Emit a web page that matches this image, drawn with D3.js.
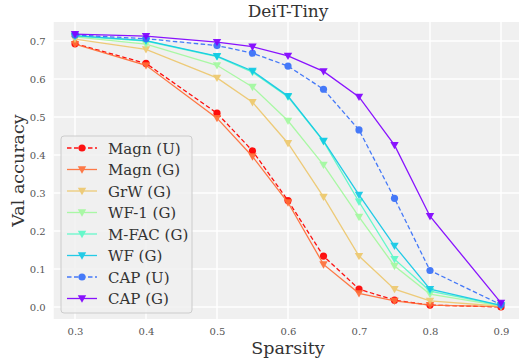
<!DOCTYPE html>
<html><head><meta charset="utf-8">
<script src="https://cdn.jsdelivr.net/npm/d3@7"></script>
<style>body{margin:0;background:#fff}svg{display:block}</style>
</head><body><div id="chart"></div>
<script>
const sparsity = [0.3, 0.4, 0.5, 0.55, 0.6, 0.65, 0.7, 0.75, 0.8, 0.9];
const seriesNames = ["Magn (U)", "Magn (G)", "GrW (G)", "WF-1 (G)", "M-FAC (G)", "WF (G)", "CAP (U)", "CAP (G)"];
const magnU = [0.693, 0.641, 0.510, 0.411, 0.280, 0.134, 0.047, 0.018, 0.005, 0.000];
const magnG = [0.692, 0.636, 0.497, 0.396, 0.275, 0.112, 0.036, 0.016, 0.005, 0.001];
const grwG  = [0.705, 0.678, 0.603, 0.539, 0.431, 0.290, 0.134, 0.047, 0.016, 0.002];
const wf1G  = [0.711, 0.692, 0.636, 0.579, 0.490, 0.374, 0.237, 0.108, 0.034, 0.003];
const mfacG = [0.713, 0.700, 0.659, 0.618, 0.553, 0.436, 0.277, 0.126, 0.042, 0.004];
const wfG   = [0.714, 0.701, 0.660, 0.621, 0.555, 0.437, 0.295, 0.161, 0.047, 0.004];
const capU  = [0.716, 0.706, 0.688, 0.668, 0.634, 0.573, 0.466, 0.286, 0.096, 0.006];
const capG  = [0.718, 0.713, 0.697, 0.685, 0.661, 0.620, 0.553, 0.426, 0.239, 0.011];
const xTicks = [0.3, 0.4, 0.5, 0.6, 0.7, 0.8, 0.9];
const yTicks = [0.0, 0.1, 0.2, 0.3, 0.4, 0.5, 0.6, 0.7];
const titleText = "DeiT-Tiny", xLabel = "Sparsity", yLabel = "Val accuracy";

const allValues = [magnU, magnG, grwG, wf1G, mfacG, wfG, capU, capG];
const colors = ["#ff0000", "#ff6f39", "#edc86f", "#a4f99f", "#5bf9c7", "#12c8e6", "#376ff9", "#8000ff"];
const dashed = [true, false, false, false, false, false, true, false];
const markers = ["circle", "tri", "tri", "tri", "tri", "tri", "circle", "tri"];

const W = 519, H = 360;
const svg = d3.select("#chart").append("svg").attr("width", W).attr("height", H);
const font = "'DejaVu Serif', serif";

const x = d3.scaleLinear().domain([0.3, 0.9]).range([75, 501]);
const y = d3.scaleLinear().domain([0, 0.7]).range([307, 41]);
const x0 = x(0.27), x1 = x(0.93), yTop = y(0.75), yBot = y(-0.0316);

svg.append("rect").attr("x", x0).attr("y", yTop).attr("width", x1 - x0).attr("height", yBot - yTop).attr("fill", "#f0f0f0");

const grid = svg.append("g");
xTicks.forEach(t => grid.append("line").attr("x1", x(t)).attr("x2", x(t)).attr("y1", yTop).attr("y2", yBot).attr("stroke", "#fff").attr("stroke-width", 1.4));
yTicks.forEach(t => grid.append("line").attr("x1", x0).attr("x2", x1).attr("y1", y(t)).attr("y2", y(t)).attr("stroke", "#fff").attr("stroke-width", 1.4));

const xAxis = svg.append("g").attr("transform", `translate(0,${yBot})`)
  .call(d3.axisBottom(x).tickValues(xTicks).tickFormat(d3.format(".1f")).tickSize(0).tickPadding(9));
const yAxis = svg.append("g").attr("transform", `translate(${x0},0)`)
  .call(d3.axisLeft(y).tickValues(yTicks).tickFormat(d3.format(".1f")).tickSize(0).tickPadding(8));
[xAxis, yAxis].forEach(a => {
  a.select(".domain").remove();
  a.selectAll("text").attr("font-family", font).attr("font-size", 10).attr("fill", "#555");
});

svg.append("clipPath").attr("id", "pc").append("rect").attr("x", x0).attr("y", yTop).attr("width", x1 - x0).attr("height", yBot - yTop);
const plot = svg.append("g").attr("clip-path", "url(#pc)");

function drawMarker(g, type, cx, cy, color) {
  if (type === "circle") {
    g.append("circle").attr("cx", cx).attr("cy", cy).attr("r", 3.6).attr("fill", color);
  } else {
    const s = 4.2;
    g.append("path").attr("d", `M${cx - s},${cy - s * 0.75}L${cx + s},${cy - s * 0.75}L${cx},${cy + s}Z`).attr("fill", color);
  }
}

const line = d3.line().x((d, i) => x(sparsity[i])).y(d => y(d));
allValues.forEach((vals, k) => {
  const g = plot.append("g").attr("opacity", 0.92);
  g.append("path").attr("d", line(vals)).attr("fill", "none").attr("stroke", colors[k]).attr("stroke-width", 1.3)
    .attr("stroke-dasharray", dashed[k] ? "4.5,2.5" : null);
  vals.forEach((v, i) => drawMarker(g, markers[k], x(sparsity[i]), y(v), colors[k]));
});

// Legend
const lg = svg.append("g");
lg.append("rect").attr("x", 61).attr("y", 136).attr("width", 131).attr("height", 177).attr("rx", 3)
  .attr("fill", "#f0f0f0").attr("fill-opacity", 0.85).attr("stroke", "#cccccc").attr("stroke-width", 1);
seriesNames.forEach((name, k) => {
  const ly = 148 + k * 21.5;
  const g = lg.append("g").attr("opacity", 0.92);
  g.append("line").attr("x1", 67).attr("x2", 97).attr("y1", ly).attr("y2", ly).attr("stroke", colors[k]).attr("stroke-width", 1.3)
    .attr("stroke-dasharray", dashed[k] ? "4.5,2.5" : null);
  drawMarker(g, markers[k], 82, ly, colors[k]);
  lg.append("text").attr("x", 108).attr("y", ly + 5.5).attr("font-family", font).attr("font-size", 15).attr("fill", "#333").text(name);
});

svg.append("text").attr("x", (x0 + x1) / 2).attr("y", 17).attr("text-anchor", "middle").attr("font-family", font).attr("font-size", 17).attr("fill", "#333").text(titleText);
svg.append("text").attr("x", (x0 + x1) / 2).attr("y", 354).attr("text-anchor", "middle").attr("font-family", font).attr("font-size", 17.5).attr("fill", "#333").text(xLabel);
svg.append("text").attr("transform", `translate(24,${(yTop + yBot) / 2}) rotate(-90)`).attr("text-anchor", "middle").attr("font-family", font).attr("font-size", 17.5).attr("fill", "#333").text(yLabel);
</script></body></html>
